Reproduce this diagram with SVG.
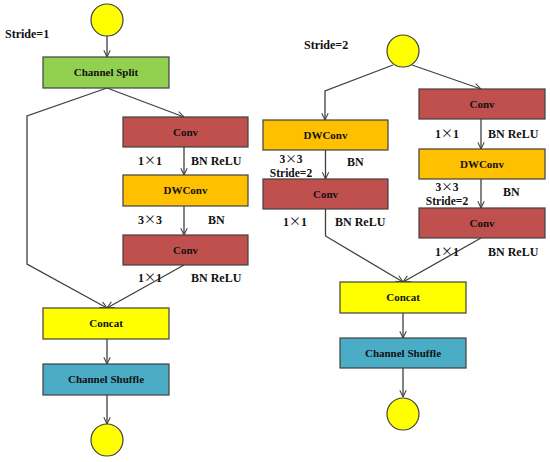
<svg xmlns="http://www.w3.org/2000/svg" width="550" height="462" viewBox="0 0 550 462">
<style>
.box{stroke:#404040;stroke-width:1.2}
.t{font-family:"Liberation Serif","Times New Roman",serif;font-weight:bold;font-size:11px;fill:#111;text-anchor:middle}
.a{font-family:"Liberation Serif","Times New Roman",serif;font-weight:bold;font-size:12px;fill:#111}
.m{text-anchor:middle}
.x{font-family:"Noto Sans CJK SC",sans-serif;font-weight:normal}
.s{font-size:11.5px}
.ln{fill:none;stroke:#404040;stroke-width:1.3}
.c{fill:#FFFF00;stroke:#404040;stroke-width:1.2}
</style>
<defs>
<marker id="ar" viewBox="0 0 10 10" refX="9.5" refY="5" markerWidth="8" markerHeight="8" orient="auto" markerUnits="userSpaceOnUse">
<path d="M1,1 L9.5,5 L1,9" fill="none" stroke="#404040" stroke-width="1.3"/>
</marker>
</defs>
<rect width="550" height="462" fill="#fff"/>
<text class="a" x="5" y="38">Stride=1</text>
<text class="a" x="304" y="49">Stride=2</text>
<g id="connectors" class="ln">
<line x1="107" y1="36" x2="107" y2="57" marker-end="url(#ar)"/>
<polyline points="107,88 27,116 27,264 107,308" marker-end="url(#ar)"/>
<line x1="107" y1="88" x2="184" y2="117" marker-end="url(#ar)"/>
<line x1="184" y1="147" x2="184" y2="175" marker-end="url(#ar)"/>
<line x1="184" y1="206" x2="184" y2="235" marker-end="url(#ar)"/>
<line x1="184" y1="265" x2="107" y2="308" marker-end="url(#ar)"/>
<line x1="107" y1="339" x2="107" y2="364" marker-end="url(#ar)"/>
<line x1="107" y1="395" x2="107" y2="424" marker-end="url(#ar)"/>
<polyline points="393,65 325,91 325,120" marker-end="url(#ar)"/>
<line x1="412" y1="65" x2="481" y2="89" marker-end="url(#ar)"/>
<line x1="325.5" y1="150" x2="325.5" y2="179" marker-end="url(#ar)"/>
<line x1="481" y1="119" x2="481" y2="149" marker-end="url(#ar)"/>
<line x1="481" y1="179" x2="481" y2="208" marker-end="url(#ar)"/>
<polyline points="325.5,209 325.5,236 403,282" marker-end="url(#ar)"/>
<line x1="481" y1="238" x2="403" y2="282" marker-end="url(#ar)"/>
<line x1="403" y1="313" x2="403" y2="338" marker-end="url(#ar)"/>
<line x1="403" y1="368" x2="403" y2="397" marker-end="url(#ar)"/>
</g>
<g id="in1"><circle class="c" cx="107" cy="20" r="16"/></g>
<g id="split"><rect class="box" x="43" y="57" width="126" height="31" fill="#92D050"/><text class="t" x="106" y="76">Channel Split</text></g>
<g id="conv1a"><rect class="box" x="123" y="117" width="125" height="30" fill="#C0504D"/><text class="t" x="185.5" y="136">Conv</text></g>
<g id="dw1"><rect class="box" x="123" y="175" width="125" height="31" fill="#FFC000"/><text class="t" x="185.5" y="194">DWConv</text></g>
<g id="conv1b"><rect class="box" x="123" y="235" width="125" height="30" fill="#C0504D"/><text class="t" x="185.5" y="254">Conv</text></g>
<g id="concat1"><rect class="box" x="43" y="308" width="126" height="31" fill="#FFFF00"/><text class="t" x="106" y="327">Concat</text></g>
<g id="shuffle1"><rect class="box" x="43" y="364" width="126" height="31" fill="#4BACC6"/><text class="t" x="106" y="383">Channel Shuffle</text></g>
<g id="out1"><circle class="c" cx="107" cy="440" r="16"/></g>
<g id="labels1">
<text class="a m" x="150" y="165">1<tspan class="x">×</tspan>1</text><text class="a" x="191" y="165">BN ReLU</text>
<text class="a m" x="150" y="224">3<tspan class="x">×</tspan>3</text><text class="a" x="208" y="224">BN</text>
<text class="a m" x="150" y="282">1<tspan class="x">×</tspan>1</text><text class="a" x="191" y="282">BN ReLU</text>
</g>
<g id="in2"><circle class="c" cx="403" cy="51" r="16"/></g>
<g id="dw2a"><rect class="box" x="263" y="120" width="125" height="30" fill="#FFC000"/><text class="t" x="325.5" y="139">DWConv</text></g>
<g id="conv2a"><rect class="box" x="263" y="179" width="125" height="30" fill="#C0504D"/><text class="t" x="325.5" y="198">Conv</text></g>
<g id="conv2b"><rect class="box" x="419" y="89" width="126" height="30" fill="#C0504D"/><text class="t" x="482" y="108">Conv</text></g>
<g id="dw2b"><rect class="box" x="419" y="149" width="126" height="30" fill="#FFC000"/><text class="t" x="482" y="168">DWConv</text></g>
<g id="conv2c"><rect class="box" x="419" y="208" width="126" height="30" fill="#C0504D"/><text class="t" x="482" y="227">Conv</text></g>
<g id="concat2"><rect class="box" x="340" y="282" width="126" height="31" fill="#FFFF00"/><text class="t" x="403" y="301">Concat</text></g>
<g id="shuffle2"><rect class="box" x="340" y="338" width="126" height="30" fill="#4BACC6"/><text class="t" x="403" y="357">Channel Shuffle</text></g>
<g id="out2"><circle class="c" cx="403" cy="414" r="16"/></g>
<g id="labels2">
<text class="a m s" x="291" y="163">3<tspan class="x">×</tspan>3</text><text class="a m s" x="291" y="177">Stride=2</text><text class="a" x="347" y="166">BN</text>
<text class="a m" x="295" y="226">1<tspan class="x">×</tspan>1</text><text class="a" x="335" y="226">BN ReLU</text>
<text class="a m" x="447" y="138">1<tspan class="x">×</tspan>1</text><text class="a" x="488" y="138">BN ReLU</text>
<text class="a m s" x="447" y="191">3<tspan class="x">×</tspan>3</text><text class="a m s" x="447" y="205">Stride=2</text><text class="a" x="503" y="196">BN</text>
<text class="a m" x="447" y="256">1<tspan class="x">×</tspan>1</text><text class="a" x="488" y="256">BN ReLU</text>
</g>
</svg>
